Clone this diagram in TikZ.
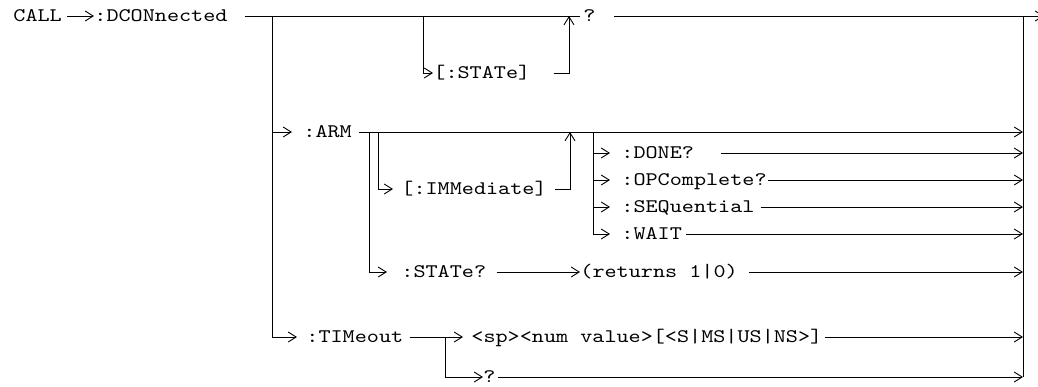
\documentclass[tikz,border=0pt]{standalone}
\usepackage{fontspec}
\newfontfamily\cmdfont[Extension=.otf, FakeStretch=1.2]{lmmono10-regular}
\usetikzlibrary{arrows.meta}
\tikzset{
  kw/.style={font=\cmdfont\fontsize{19.2}{24}\selectfont, anchor=west,
    inner xsep=0pt, inner ysep=0pt, text height=14pt, text depth=2.6pt},
  arr/.style={-{Straight Barb[length=8pt,width=10pt]}},
}
\begin{document}
\begin{tikzpicture}[x=1pt,y=-1pt,line width=0.9pt]
\useasboundingbox (0,0) rectangle (1038,386);
% keywords
\node[kw] (call) at (13,16) {CALL};
\node[kw] (dcon) at (94,16) {:DCONnected};
\node[kw] (qa) at (583,16) {?};
\node[kw] (stopt) at (433,73) {[:STATe]};
\node[kw] (arm) at (303,132) {:ARM};
\node[kw] (imm) at (401,189) {[:IMMediate]};
\node[kw] (done) at (621,153) {:DONE?};
\node[kw] (opc) at (621,180) {:OPComplete?};
\node[kw] (seq) at (621,207) {:SEQuential};
\node[kw] (wait) at (621,234) {:WAIT};
\node[kw] (stq) at (401,272) {:STATe?};
\node[kw] (ret) at (580,272) {(returns 1|0)};
\node[kw] (tim) at (306,337) {:TIMeout};
\node[kw] (val) at (471,337) {<sp><num value>[<S|MS|US|NS>]};
\node[kw] (qb) at (483,377) {?};
% junctions
\coordinate (jl) at (272,16);
\coordinate (js) at (423,16);
\coordinate (ks) at (569,16);
\coordinate (jr) at (1023,16);
\coordinate (exit) at (1044,16);
\coordinate (ja) at (369,132);
\coordinate (jb) at (378,132);
\coordinate (ki) at (570,132);
\coordinate (jm) at (593,132);
\coordinate (jt) at (445,337);
% main line
\draw[arr] ([xshift=5pt]call.east) -- (dcon.west);
\draw ([xshift=17pt]dcon.east) -- ([xshift=-3pt]qa.west);
\draw[arr] ([xshift=18pt]qa.east) -- (exit);
\draw[arr] (js) |- (stopt.west);
\draw[arr] ([xshift=23pt]stopt.east) -| (ks);
% left and right rails
\draw[arr] (jl) |- ([xshift=-9pt]tim.west);
\draw[arr] (jl |- arm.west) -- ([xshift=-11pt]arm.west);
\draw (jr) -- (jr |- qb.west);
% :ARM
\draw[arr] ([xshift=7pt]arm.east) -- (jr |- arm.west);
\draw[arr] (ja) |- ([xshift=-14pt]stq.west);
\draw[arr] (jb) |- ([xshift=-8pt]imm.west);
\draw[arr] ([xshift=8pt]imm.east) -| (ki);
\draw (jm) -- (jm |- wait.west);
\foreach \n in {done,opc,seq,wait}
  \draw[arr] (jm |- \n.west) -- ([xshift=-11pt]\n.west);
\draw[arr] ([xshift=27pt]done.east) -- (jr |- done.west);
\draw[arr] ([xshift=1pt]opc.east) -- (jr |- opc.west);
\draw[arr] ([xshift=6pt]seq.east) -- (jr |- seq.west);
\draw[arr] ([xshift=4pt]wait.east) -- (jr |- wait.west);
\draw[arr] ([xshift=10pt]stq.east) -- (ret.west);
\draw[arr] ([xshift=11pt]ret.east) -- (jr |- ret.west);
% :TIMeout
\draw[arr] ([xshift=6pt]tim.east) -- ([xshift=-8pt]val.west);
\draw[arr] (jt) |- (qb.west);
\draw[arr] ([xshift=2pt]val.east) -- (jr |- val.west);
\draw[arr] ([xshift=2pt]qb.east) -- (jr |- qb.west);
\end{tikzpicture}
\end{document}
